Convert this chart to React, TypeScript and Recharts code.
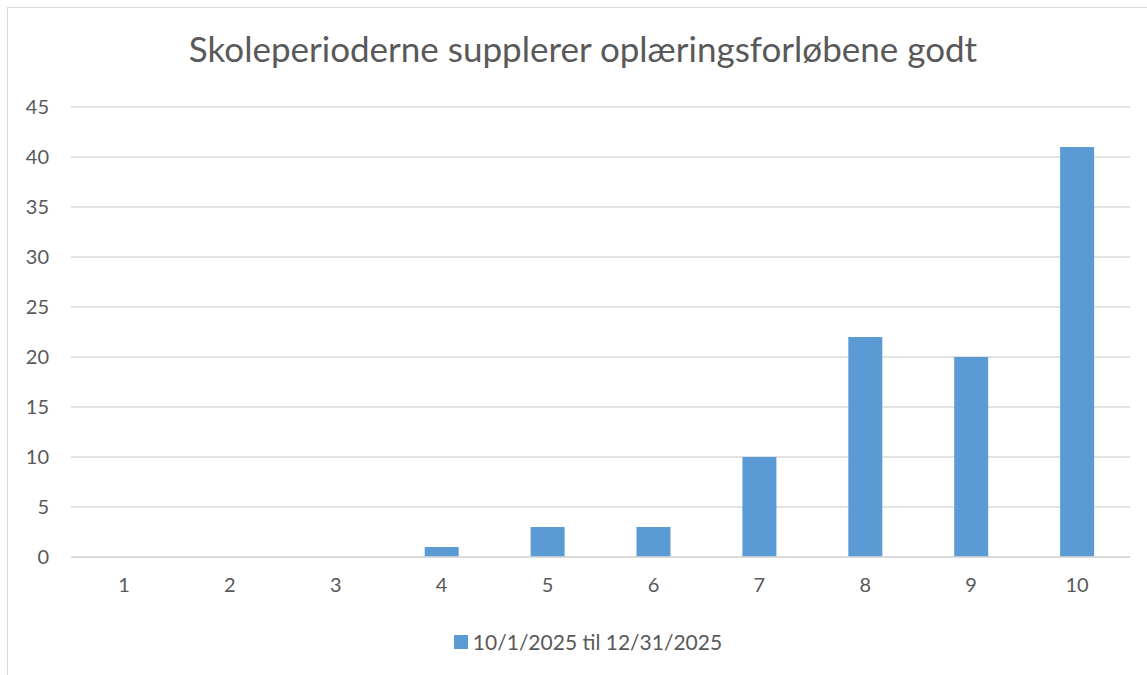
import React from 'react';
import { BarChart, Bar, XAxis, YAxis, CartesianGrid } from 'recharts';

const categories = ['1', '2', '3', '4', '5', '6', '7', '8', '9', '10'];
const values = [0, 0, 0, 1, 3, 3, 10, 22, 20, 41];
const yTicks = [0, 5, 10, 15, 20, 25, 30, 35, 40, 45];
const seriesName = '10/1/2025 til 12/31/2025';
const title = 'Skoleperioderne supplerer oplæringsforløbene godt';

const FONT = 'Lato, "Open Sans", sans-serif';
const TEXT = '#595959';
const GRID = '#d9d9d9';
const BLUE = '#5b9bd5';

export default function App() {
  const data = categories.map((c, i) => ({ cat: c, value: values[i] }));

  return (
    <div style={{ position: 'absolute', left: 0, top: 0, width: 1147, height: 675, overflow: 'hidden', background: '#fff', fontFamily: FONT }}>
      {/* chart frame, cropped on the right and bottom */}
      <div style={{ position: 'absolute', left: 7, top: 7, width: 1200, height: 720, border: `1.5px solid ${GRID}` }} />
      <div style={{ position: 'absolute', left: 0, top: 26, width: 1166, textAlign: 'center', fontSize: 35, color: TEXT, lineHeight: '44px' }}>
        {title}
      </div>
      <div style={{ position: 'absolute', left: 0, top: 629, width: 1176, display: 'flex', justifyContent: 'center', alignItems: 'center', fontSize: 21, color: TEXT, lineHeight: '26px' }}>
        <span style={{ display: 'inline-block', width: 14, height: 14, background: BLUE, marginRight: 5 }} />
        <span>{seriesName}</span>
      </div>
      <div style={{ position: 'absolute', left: 0, top: 0 }}>
        <BarChart width={1147} height={675} data={data} margin={{ top: 107, right: 17, bottom: 78, left: 0 }} barCategoryGap="34%">
          <CartesianGrid vertical={false} stroke={GRID} strokeWidth={1.5} />
          <XAxis
            dataKey="cat"
            height={40}
            tickLine={false}
            tickSize={0}
            tickMargin={21}
            axisLine={{ stroke: GRID, strokeWidth: 1.5 }}
            tick={{ fill: TEXT, fontSize: 20, fontFamily: FONT }}
          />
          <YAxis
            width={71}
            domain={[0, 45]}
            ticks={yTicks}
            interval={0}
            tickLine={false}
            tickSize={0}
            axisLine={false}
            tickMargin={22}
            tick={{ fill: TEXT, fontSize: 20, fontFamily: FONT }}
          />
          <Bar dataKey="value" name={seriesName} fill={BLUE} isAnimationActive={false} />
        </BarChart>
      </div>
    </div>
  );
}
